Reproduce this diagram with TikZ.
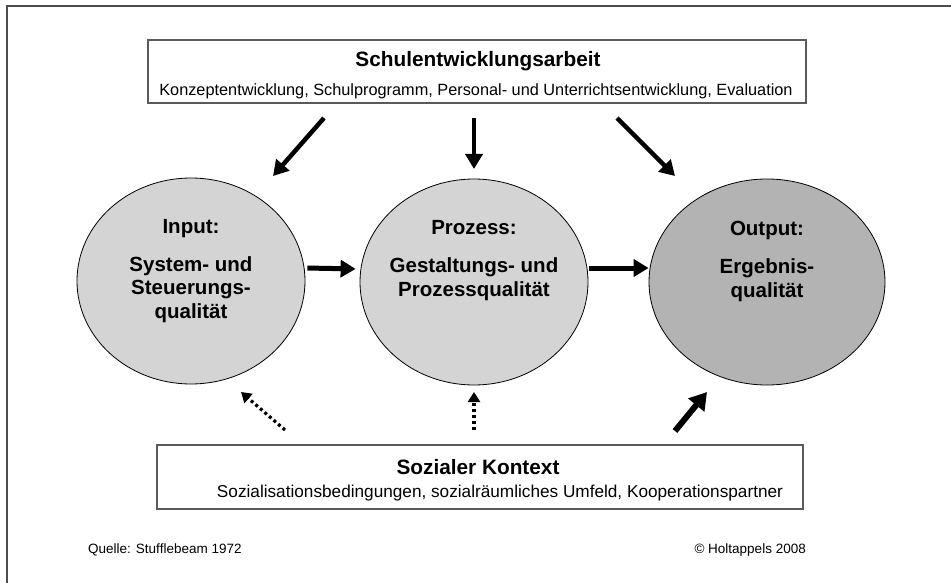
\documentclass[tikz,border=0pt]{standalone}
\usepackage{fontspec}
\setmainfont{Liberation Sans}
\usepackage{tikz}
\usetikzlibrary{arrows.meta,positioning,shapes.geometric}
\definecolor{framegray}{HTML}{4D4D4D}
\definecolor{boxgray}{HTML}{5A5A5A}
\definecolor{stagelight}{HTML}{D4D4D4}
\definecolor{stagedark}{HTML}{B3B3B3}

\begin{document}
\begin{tikzpicture}[
    x=1pt, y=-1pt,
    every node/.style={font=\fontsize{15}{18}\selectfont, inner sep=0pt},
    infobox/.style={
        rectangle,
        draw=boxgray,
        line width=1.2pt,
        fill=white
    },
    stage/.style={
        ellipse,
        draw=black,
        line width=0.8pt,
        minimum width=228pt,
        minimum height=206pt
    },
    stagetext/.style={
        anchor=base,
        align=center,
        font=\fontsize{20.5}{23.3}\selectfont\bfseries
    },
    boldtitle/.style={anchor=base, font=\fontsize{20.8}{23.5}\selectfont\bfseries},
    subline/.style={anchor=base, font=\fontsize{16.3}{19}\selectfont},
    bigarrow/.style={-{Triangle[length=15pt,width=17pt]}, line width=5pt},
    dotarrow/.style={-{Triangle[length=10pt,width=12pt]}, line width=3.2pt,
        dash pattern=on 3pt off 3pt}
]
    \useasboundingbox (0,0) rectangle (951,583);

    % === FRAME ===
    \draw[framegray, line width=2pt] (7,583) -- (7,6) -- (951,6);

    % === SCHULENTWICKLUNGSARBEIT ===
    \node[infobox, minimum width=658pt, minimum height=63pt] (sewbox) at (477,71.5) {};
    \node[boldtitle] (sewtitle) at (478,67) {Schulentwicklungsarbeit};
    \node[subline] (sewsub) at (476,96) {Konzeptentwicklung, Schulprogramm, Personal- und Unterrichtsentwicklung, Evaluation};

    % === STAGES ===
    \node[stage, fill=stagelight] (input) at (191,281) {};
    \node[stage, fill=stagelight] (prozess) at (474,282) {};
    \node[stage, fill=stagedark, minimum width=236pt] (output) at (767,282) {};

    % last line sits on the given baseline
    \node[stagetext] (inputtext) at (191,318) {Input:\\[14.5pt]System- und\\Steuerungs-\\qualit\"at};
    \node[stagetext] (prozesstext) at (474,296) {Prozess:\\[14.5pt]Gestaltungs- und\\Prozessqualit\"at};
    \node[stagetext] (outputtext) at (767,297) {Output:\\[14.5pt]Ergebnis-\\qualit\"at};

    % Arrows between the stages
    \draw[bigarrow, shorten <=2pt, shorten >=4pt] ([yshift=13pt]input.east) -- ([yshift=13pt]prozess.west);
    \draw[bigarrow, shorten <=1pt] ([yshift=14pt]prozess.east) -- ([yshift=14pt]output.west);

    % Arrows from Schulentwicklungsarbeit
    \coordinate (sewl) at (324,118);
    \coordinate (sewm) at (474,118);
    \coordinate (sewr) at (617,118);
    \coordinate (inputne) at (273,176);
    \coordinate (prozessn) at (474,169);
    \coordinate (outputnw) at (675,176);
    \draw[bigarrow, line width=4.5pt] (sewl) -- (inputne);
    \draw[bigarrow, line width=4.5pt] (sewm) -- (prozessn);
    \draw[bigarrow, line width=4.5pt] (sewr) -- (outputnw);

    % === SOZIALER KONTEXT ===
    \node[infobox, minimum width=646pt, minimum height=64pt] (skbox) at (480,477) {};
    \node[boldtitle] (sktitle) at (478,474) {Sozialer Kontext};
    \node[subline, font=\fontsize{17.2}{20}\selectfont] (sksub) at (500,497) {Sozialisationsbedingungen, sozialr\"aumliches Umfeld, Kooperationspartner};

    % Arrows from Sozialer Kontext
    \coordinate (skl) at (285,430);
    \coordinate (skm) at (474,430);
    \coordinate (skr) at (675,431);
    \coordinate (inputse) at (241,392);
    \coordinate (prozesss) at (474,392);
    \coordinate (outputsw) at (707,392);
    \draw[dotarrow] (skl) -- (inputse);
    \draw[dotarrow] (skm) -- (prozesss);
    \draw[bigarrow, line width=6pt, -{Triangle[length=17pt,width=20pt]}] (skr) -- (outputsw);

    % === FOOTER ===
    \node[subline, anchor=base west, font=\fontsize{13.5}{16}\selectfont] (source) at (88,553) {Quelle: Stufflebeam 1972};
    \node[subline, anchor=base east, font=\fontsize{13.5}{16}\selectfont] (copyright) at (806,553) {\textcopyright{} Holtappels 2008};
\end{tikzpicture}
\end{document}
